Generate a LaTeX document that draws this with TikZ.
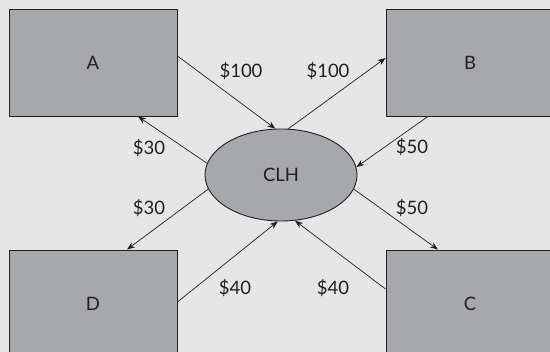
\documentclass[tikz,border=0pt]{standalone}
\usepackage{fontspec}
\setmainfont{Lato}
\usetikzlibrary{arrows.meta,shapes.geometric}
\definecolor{bg}{HTML}{E6E6E6}
\definecolor{boxfill}{HTML}{A7A8AB}
\definecolor{ink}{HTML}{231F20}
\begin{document}
\begin{tikzpicture}[x=1pt,y=-1pt,
  party/.style={draw=ink,line width=0.9pt,fill=boxfill,minimum width=168pt,minimum height=107pt,inner sep=0pt,font=\fontsize{18.5}{22}\selectfont,text=ink},
  house/.style={ellipse,draw=ink,line width=0.9pt,fill=boxfill,minimum width=152pt,minimum height=92pt,inner sep=0pt,font=\fontsize{18.5}{22}\selectfont,text=ink},
  flow/.style={draw=ink,line width=0.7pt,-{Stealth[length=8pt,width=6pt]}},
  amt/.style={font=\fontsize{18.5}{22}\selectfont,text=ink,inner sep=0pt}]
\useasboundingbox (0,0) rectangle (550,352);
\fill[bg] (0,0) rectangle (550,352);
\begin{scope}
\clip (0,0) rectangle (550,352);
\node[party] (A) at (93,62.5) {A};
\node[party] (B) at (470,62.5) {B};
\node[party] (D) at (93,303.5) {D};
\node[party] (C) at (470,303.5) {C};
\node[house] (CLH) at (281,175) {CLH};
\end{scope}
\draw[flow] ([yshift=6.5pt]A.east) -- (CLH.97);
\draw[flow] (CLH.171) -- ([xshift=45pt]A.south);
\draw[flow] (CLH.81) -- ([yshift=4.5pt]B.west);
\draw[flow] ([xshift=-42pt]B.south) -- (CLH.6);
\draw[flow] (CLH.191) -- ([xshift=34pt]D.north);
\draw[flow] ([yshift=1.5pt]D.east) -- (CLH.266);
\draw[flow] (CLH.349) -- ([xshift=-32pt]C.north);
\draw[flow] ([yshift=14.5pt]C.west) -- (CLH.287);
\node[amt] (l1) at (241,71) {\$100};
\node[amt] (l2) at (328,71) {\$100};
\node[amt] (l3) at (149,148) {\$30};
\node[amt] (l4) at (412,147) {\$50};
\node[amt] (l5) at (149,208) {\$30};
\node[amt] (l6) at (412,208) {\$50};
\node[amt] (l7) at (235,288) {\$40};
\node[amt] (l8) at (333,288) {\$40};
\end{tikzpicture}
\end{document}
